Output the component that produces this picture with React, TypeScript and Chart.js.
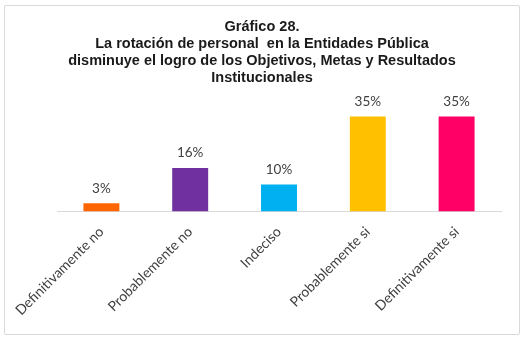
import React, { useEffect, useRef } from "react";
import { Chart, registerables } from "chart.js";

Chart.register(...registerables);

const titleLines = [
  "Gráfico 28.",
  "La rotación de personal  en la Entidades Pública",
  "disminuye el logro de los Objetivos, Metas y Resultados",
  "Institucionales",
];
const categories = [
  "Definitivamente no",
  "Probablemente no",
  "Indeciso",
  "Probablemente si",
  "Definitivamente si",
];
const percentages = [3, 16, 10, 35, 35];
const barColors = ["#FF6600", "#7030A0", "#00B0F0", "#FFC000", "#FF0066"];

const labelFont = "Lato";

// Four-line bold heading drawn above the plot
const headingPlugin = {
  id: "heading",
  afterDraw(chart: any) {
    const { ctx } = chart;
    ctx.save();
    ctx.fillStyle = "#1a1a1a";
    ctx.font = "bold 14.5px 'Liberation Sans', Arial, sans-serif";
    ctx.textAlign = "center";
    ctx.textBaseline = "middle";
    titleLines.forEach((line, i) => {
      ctx.fillText(line, 262, 27 + i * 17);
    });
    ctx.restore();
  },
};

// Percentage shown above each bar
const valueLabelPlugin = {
  id: "valueLabels",
  afterDatasetsDraw(chart: any) {
    const { ctx } = chart;
    const meta = chart.getDatasetMeta(0);
    ctx.save();
    ctx.fillStyle = "#404040";
    ctx.font = `13.5px ${labelFont}`;
    ctx.textAlign = "center";
    ctx.textBaseline = "middle";
    meta.data.forEach((bar: any, i: number) => {
      ctx.fillText(`${percentages[i]}%`, bar.x, bar.y - 15);
    });
    ctx.restore();
  },
};

export default function App() {
  const canvasRef = useRef<HTMLCanvasElement | null>(null);

  useEffect(() => {
    if (!canvasRef.current) return;
    const chart = new Chart(canvasRef.current, {
      type: "bar",
      data: {
        labels: categories,
        datasets: [
          {
            data: percentages,
            backgroundColor: barColors,
            borderWidth: 0,
            categoryPercentage: 1,
            barPercentage: 0.405,
          },
        ],
      },
      options: {
        animation: false,
        responsive: false,
        devicePixelRatio: 1,
        layout: { padding: { top: 103, left: 57, right: 29, bottom: 22 } },
        plugins: {
          legend: { display: false },
          title: { display: false },
          tooltip: { enabled: false },
        },
        scales: {
          x: {
            grid: { display: false },
            border: { display: true, color: "#d9d9d9", width: 1 },
            ticks: {
              minRotation: 45,
              maxRotation: 45,
              color: "#404040",
              font: { family: labelFont, size: 14 },
              padding: 4,
            },
          },
          y: { display: false, min: 0, max: 40 },
        },
      },
      plugins: [headingPlugin, valueLabelPlugin],
    });
    return () => chart.destroy();
  }, []);

  return (
    <div
      style={{
        position: "absolute",
        left: 0,
        top: 0,
        width: 530,
        height: 342,
        background: "#fff",
      }}
    >
      <div
        style={{
          position: "absolute",
          left: 4,
          top: 5,
          width: 514,
          height: 328,
          border: "1px solid #d9d9d9",
          borderRadius: 2,
        }}
      />
      <canvas
        ref={canvasRef}
        width={530}
        height={342}
        style={{ position: "absolute", left: 0, top: 0, display: "block" }}
      />
    </div>
  );
}
